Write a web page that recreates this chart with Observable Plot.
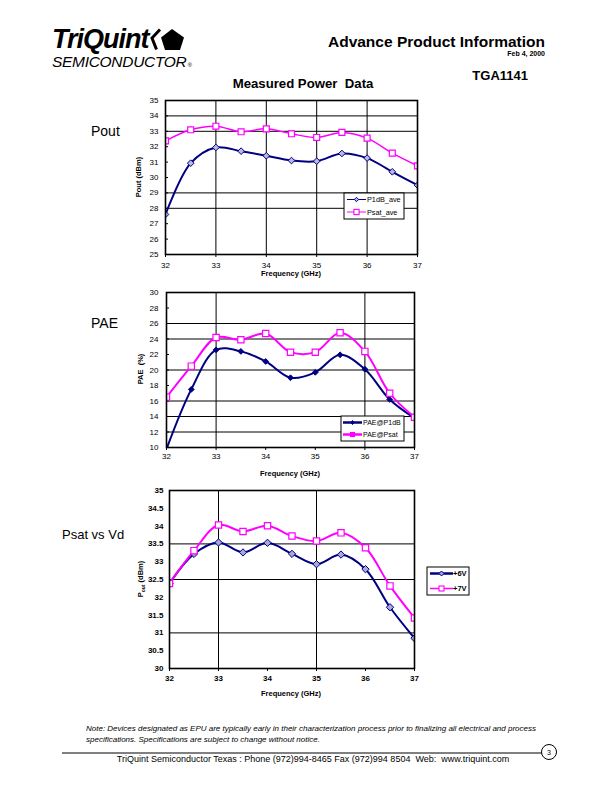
<!DOCTYPE html>
<html><head><meta charset="utf-8">
<script src="https://cdn.jsdelivr.net/npm/d3@7"></script>
<script src="https://cdn.jsdelivr.net/npm/@observablehq/plot@0.6"></script>
<style>
body{margin:0;background:#fff;}
#page{position:relative;width:612px;height:792px;overflow:hidden;font-family:"Liberation Sans",Arial,sans-serif;background:#fff;}
</style></head><body><div id="page"></div>
<script>
// ---------- data ----------
const freq = [32, 32.5, 33, 33.5, 34, 34.5, 35, 35.5, 36, 36.5, 37];
const xTicks = [32, 33, 34, 35, 36, 37];

// Pout chart
const p1dbAve = [27.6, 30.93, 31.95, 31.71, 31.41, 31.1, 31.06, 31.56, 31.26, 30.37, 29.5];
const psatAve = [32.38, 33.1, 33.33, 32.97, 33.16, 32.84, 32.6, 32.93, 32.56, 31.58, 30.76];
const poutTicks = [25, 26, 27, 28, 29, 30, 31, 32, 33, 34, 35];
const poutGridY = [34, 33, 29, 28];
const poutGridX = [33, 34, 35, 36];

// PAE chart
const paeP1dB = [9.8, 17.5, 22.6, 22.4, 21.1, 19.0, 19.7, 21.96, 20.1, 16.2, 13.8];
const paePsat = [16.5, 20.5, 24.2, 23.9, 24.7, 22.3, 22.3, 24.8, 22.4, 17.0, 13.9];
const paeTicks = [10, 12, 14, 16, 18, 20, 22, 24, 26, 28, 30];
const paeGridY = [26, 24, 20, 16, 14, 12];
const paeGridX = [33, 36];

// Psat vs Vd chart
const psat6V = [32.39, 33.22, 33.54, 33.26, 33.53, 33.22, 32.93, 33.2, 32.79, 31.72, 30.85];
const psat7V = [32.39, 33.31, 34.03, 33.85, 34.01, 33.72, 33.58, 33.81, 33.39, 32.32, 31.42];
const vdTicks = [30, 30.5, 31, 31.5, 32, 32.5, 33, 33.5, 34, 34.5, 35];
const vdGridY = [33.5, 32.5, 31];
const vdGridX = [33, 35];

const NAVY = "#000080", MAG = "#FF00FF";
const page = d3.select("#page");
const FONT = "Liberation Sans, Arial, sans-serif";

function chart(o) {
  const W = 612;
  const plotW = o.x1 - o.x0;
  const marks = [
    Plot.gridX(o.gx, {stroke: "#000", strokeOpacity: 1, strokeWidth: 1}),
    Plot.gridY(o.gy, {stroke: "#000", strokeOpacity: 1, strokeWidth: 1})
  ];
  if (o.inTicks) marks.push(Plot.tickY(o.yTicks, {y: d => d, stroke: "#000", insetRight: plotW - 3}));
  marks.push(
    Plot.axisY(o.yTicks, {anchor: "left", tickSize: 0, tickPadding: o.yPad, label: null, fontWeight: o.fw, tickFormat: d => String(d)}),
    Plot.axisX(xTicks, {anchor: "bottom", tickSize: 3, tickPadding: o.xPad, label: null, fontWeight: o.fw, tickFormat: d => String(d)})
  );
  for (const s of o.series) {
    const rows = freq.map((f, i) => ({f, v: s.values[i]}));
    marks.push(Plot.line(rows, {x: "f", y: "v", stroke: s.color, strokeWidth: s.lw, curve: "catmull-rom", clip: true}));
    marks.push(Plot.dot(rows, {x: "f", y: "v", symbol: s.symbol, r: s.r, stroke: s.color, fill: s.fill, strokeWidth: s.sw, clip: true}));
  }
  marks.push(Plot.frame({stroke: "#000", strokeWidth: 1.6}));
  const p = Plot.plot({
    width: W, height: o.H,
    marginLeft: o.x0, marginRight: W - o.x1,
    marginTop: o.y0 - o.T, marginBottom: o.T + o.H - o.y1,
    x: {domain: [32, 37]}, y: {domain: o.yDomain},
    style: {fontFamily: FONT, fontSize: o.fs + "px", color: "#000", background: "transparent", overflow: "visible"},
    marks
  });
  p.style.position = "absolute";
  p.style.left = "0px";
  p.style.top = o.T + "px";
  page.node().appendChild(p);
}

chart({T: 90, H: 185, x0: 165, x1: 417, y0: 100, y1: 254, yDomain: [25, 35], yTicks: poutTicks,
  gx: poutGridX, gy: poutGridY, inTicks: true, fs: 8, fw: "normal", yPad: 7, xPad: 5,
  series: [
    {values: p1dbAve, color: NAVY, lw: 2, symbol: "diamond2", r: 3, fill: "#b8b8e0", sw: 1},
    {values: psatAve, color: MAG, lw: 1.5, symbol: "square2", r: 3.8, fill: "#fff", sw: 1.2}
  ]});

chart({T: 282, H: 185, x0: 166, x1: 414, y0: 292, y1: 447, yDomain: [10, 30], yTicks: paeTicks,
  gx: paeGridX, gy: paeGridY, inTicks: true, fs: 8, fw: "normal", yPad: 8, xPad: 3,
  series: [
    {values: paeP1dB, color: NAVY, lw: 2, symbol: "diamond2", r: 2.6, fill: NAVY, sw: 1},
    {values: paePsat, color: MAG, lw: 2, symbol: "square2", r: 4, fill: "#fff", sw: 1.2}
  ]});

chart({T: 482, H: 205, x0: 169, x1: 414, y0: 490, y1: 668, yDomain: [30, 35], yTicks: vdTicks,
  gx: vdGridX, gy: vdGridY, inTicks: false, fs: 8, fw: "bold", yPad: 6, xPad: 4,
  series: [
    {values: psat6V, color: NAVY, lw: 2, symbol: "diamond2", r: 3.3, fill: "#a8a8d8", sw: 1},
    {values: psat7V, color: MAG, lw: 2, symbol: "square2", r: 4, fill: "#fff", sw: 1.2}
  ]});

// ---------- overlay: text, legends ----------
const svg = page.append("svg").style("position", "absolute").style("left", "0px").style("top", "0px")
  .attr("width", 612).attr("height", 792).style("font-family", FONT);

function txt(x, y, s, o = {}) {
  const t = svg.append("text").attr("x", x).attr("y", y).text(s)
    .attr("font-size", o.size || 10).attr("font-weight", o.weight || "normal")
    .attr("font-style", o.style || "normal").attr("text-anchor", o.anchor || "start").attr("fill", "#000");
  if (o.ls != null) t.attr("letter-spacing", o.ls);
  if (o.rot) t.attr("transform", `rotate(-90 ${x} ${y})`);
  if (o.pre) t.style("white-space", "pre");
  return t;
}

// logo
txt(52, 48, "TriQuint", {size: 27, weight: "bold", style: "italic", ls: -1});
const sem = txt(52, 67, "SEMICONDUCTOR", {size: 15.5, style: "italic", ls: -0.3});
sem.append("tspan").attr("font-size", 6).attr("dx", 1).text("®");
// pentagon emblem
svg.append("polygon").attr("points", "172,29 184,37.5 180,50 165,50 161,37.5").attr("fill", "#000");
svg.append("polyline").attr("points", "160,29.5 152,38 156.5,49.5").attr("fill", "none").attr("stroke", "#000").attr("stroke-width", 3);

txt(545, 47, "Advance Product Information", {size: 15.5, weight: "bold", anchor: "end"});
txt(545, 56, "Feb 4, 2000", {size: 7, weight: "bold", anchor: "end"});
txt(303, 88, "Measured Power  Data", {size: 13.2, weight: "bold", anchor: "middle", pre: true});
txt(528, 80, "TGA1141", {size: 13, weight: "bold", anchor: "end"});

// side labels
txt(91, 136, "Pout", {size: 14});
txt(91, 328, "PAE", {size: 14});
txt(62, 539, "Psat vs Vd", {size: 13});

// axis titles
txt(141, 177, "Pout (dBm)", {size: 7.5, weight: "bold", anchor: "middle", rot: true});
txt(291, 276, "Frequency (GHz)", {size: 7.5, weight: "bold", anchor: "middle"});
txt(143, 369, "PAE  (%)", {size: 7.5, weight: "bold", anchor: "middle", rot: true, pre: true});
txt(290, 476, "Frequency (GHz)", {size: 7.5, weight: "bold", anchor: "middle"});
const pt = txt(143, 579, "", {size: 7.5, weight: "bold", anchor: "middle", rot: true});
pt.append("tspan").text("P");
pt.append("tspan").attr("font-size", 5).attr("dy", 1.5).text("out");
pt.append("tspan").attr("dy", -1.5).text(" (dBm)");
txt(291, 696, "Frequency (GHz)", {size: 7.5, weight: "bold", anchor: "middle"});

// legends
function legend(x, y, w, h, items, o) {
  svg.append("rect").attr("x", x).attr("y", y).attr("width", w).attr("height", h)
    .attr("fill", "#fff").attr("stroke", "#000").attr("stroke-width", 1);
  items.forEach((it, i) => {
    const cy = y + o.first + i * o.step;
    svg.append("line").attr("x1", x + o.lx0).attr("x2", x + o.lx1).attr("y1", cy).attr("y2", cy)
      .attr("stroke", it.color).attr("stroke-width", it.lw);
    const mx = x + (o.lx0 + o.lx1) / 2, s = it.size;
    if (it.symbol === "diamond") {
      svg.append("polygon").attr("points", `${mx},${cy - s} ${mx + s},${cy} ${mx},${cy + s} ${mx - s},${cy}`)
        .attr("fill", it.fill).attr("stroke", it.color).attr("stroke-width", 1);
    } else {
      svg.append("rect").attr("x", mx - s).attr("y", cy - s).attr("width", 2 * s).attr("height", 2 * s)
        .attr("fill", it.fill).attr("stroke", it.color).attr("stroke-width", 1.1);
    }
    txt(x + o.tx, cy + o.fs * 0.36, it.label, {size: o.fs, weight: o.fw});
  });
}
legend(344, 193, 60, 26, [
  {label: "P1dB_ave", color: NAVY, lw: 1, symbol: "diamond", size: 2.2, fill: "#b8b8e0"},
  {label: "Psat_ave", color: MAG, lw: 1, symbol: "square", size: 2.6, fill: "#fff"}
], {first: 6.5, step: 12.5, lx0: 3, lx1: 22, tx: 23, fs: 7.3, fw: "normal"});
legend(341, 416, 63, 25, [
  {label: "PAE@P1dB", color: NAVY, lw: 2.5, symbol: "diamond", size: 2, fill: NAVY},
  {label: "PAE@Psat", color: MAG, lw: 2.5, symbol: "square", size: 2, fill: MAG}
], {first: 6.5, step: 12, lx0: 2, lx1: 21, tx: 22, fs: 7, fw: "normal"});
legend(427, 567, 42, 28, [
  {label: "+6V", color: NAVY, lw: 2.5, symbol: "diamond", size: 2.5, fill: "#a8a8d8"},
  {label: "+7V", color: MAG, lw: 1.5, symbol: "square", size: 2.5, fill: "#fff"}
], {first: 6.5, step: 15, lx0: 3, lx1: 26, tx: 26, fs: 7.5, fw: "bold"});

// footer
txt(86, 731, "Note: Devices designated as EPU are typically early in their characterization process prior to finalizing all electrical and process", {size: 8, style: "italic"});
txt(86, 742, "specifications. Specifications are subject to change without notice.", {size: 8, style: "italic"});
svg.append("line").attr("x1", 62).attr("x2", 542).attr("y1", 753).attr("y2", 753).attr("stroke", "#000").attr("stroke-width", 1);
svg.append("circle").attr("cx", 549).attr("cy", 752).attr("r", 7.5).attr("fill", "#fff").attr("stroke", "#000").attr("stroke-width", 1);
txt(549, 755, "3", {size: 7, anchor: "middle"});
txt(313, 762, "TriQuint Semiconductor Texas : Phone (972)994-8465 Fax (972)994 8504  Web:  www.triquint.com", {size: 9, anchor: "middle", pre: true});
</script></body></html>
